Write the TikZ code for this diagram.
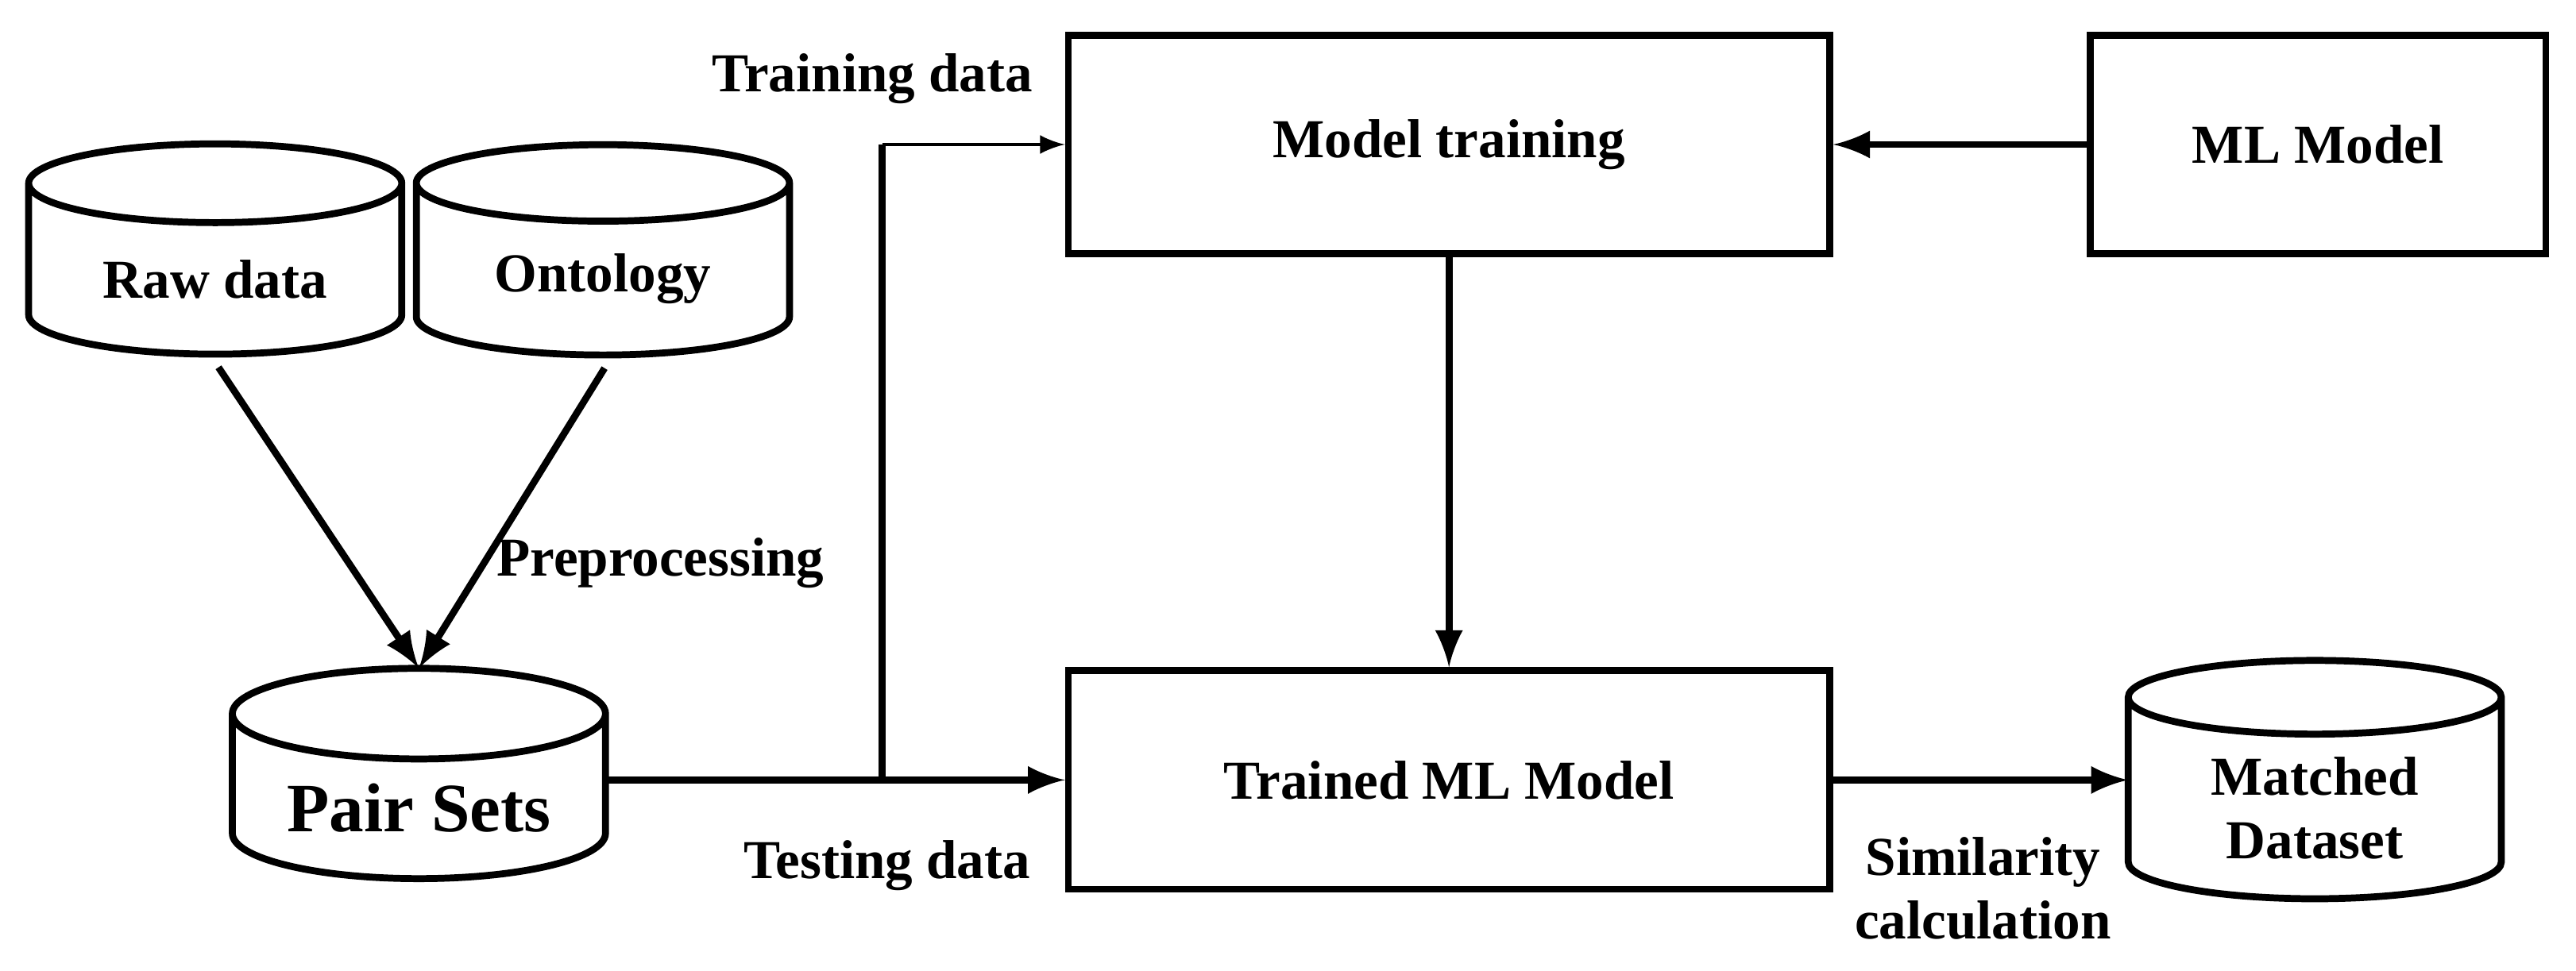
\documentclass[tikz,border=0pt]{standalone}
\usepackage{fontspec}
\setmainfont{Liberation Serif}
\usetikzlibrary{arrows,shapes.geometric}
\begin{document}
\begin{tikzpicture}[x=0.01cm,y=-0.01cm,>=latex,line width=1.2pt,
  box node/.style={rectangle,draw,minimum width=4.63cm,minimum height=1.33cm,
                   font=\fontsize{9.5}{11}\selectfont\bfseries},
  db node/.style={cylinder,draw,shape border rotate=90,aspect=0.3,
                  minimum width=2.27cm,minimum height=1.28cm,outer sep=0pt,
                  font=\fontsize{9.5}{11}\selectfont\bfseries,align=center},
  lbl/.style={font=\fontsize{9.5}{11}\selectfont\bfseries,align=center}]
  \useasboundingbox (0,0) rectangle (1568,591);

  \node[db node] (raw)  at (131,170) {Raw data};
  \node[db node] (onto) at (367,170) {Ontology};
  \node[db node,font=\fontsize{12}{14}\selectfont\bfseries] (pair) at (255,492) {Pair Sets};
  \node[db node] (match) at (1409,492) {Matched\\Dataset};

  \node[box node] (train) at (882,88) {Model training};
  \node[box node,minimum width=2.77cm] (ml) at (1411,88) {ML Model};
  \node[box node] (trained) at (882,475) {Trained ML Model};

  \coordinate (split) at (537,475);
  \coordinate (up) at (537,88);

  % preprocessing
  \draw[->] (raw.south) ++(2,8) -- (pair.north);
  \draw[->] (onto.south) ++(1,8) -- (pair.north);
  \node[lbl] (pre) at (402,343) {Preprocessing};

  % data split
  \draw[->] (pair.east |- split) -- (trained.west);
  \draw (split) -- (up);
  \draw[->,line width=0.5pt] (up) -- (train.west);
  \node[lbl] (trd) at (531,48) {Training data};
  \node[lbl] (ted) at (540,527) {Testing data};

  % model
  \draw[->] (train.south) -- (trained.north);
  \draw[->] (ml.west) -- (train.east);
  \draw[->] (trained.east) -- (match.west |- trained.east);
  \node[lbl] (sim) at (1207,541) {Similarity\\calculation};
\end{tikzpicture}
\end{document}
